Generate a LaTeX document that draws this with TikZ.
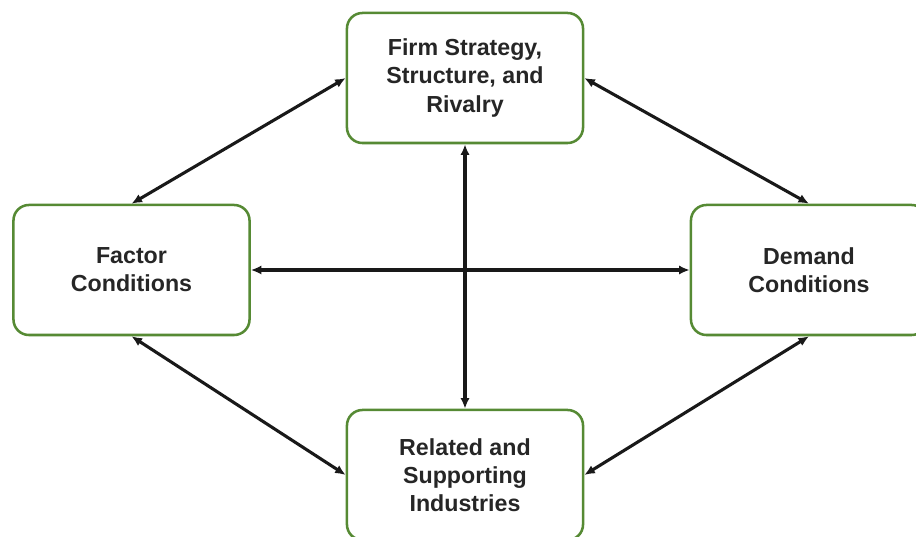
\documentclass[tikz,border=0pt]{standalone}
\usepackage{fontspec}
\setmainfont{Liberation Sans}
\usetikzlibrary{arrows.meta}
\definecolor{boxGreen}{RGB}{86,138,52}
\definecolor{textGray}{RGB}{38,38,38}

\begin{document}
\begin{tikzpicture}
[x=0.025cm,y=0.025cm,
  lineDecorate/.style={{Latex[length=7.5pt,width=6.5pt]}-{Latex[length=7.5pt,width=6.5pt]},line width=2.2pt,black!90},%
  nodeDecorate/.style={shape=rectangle,rounded corners=11pt,draw=boxGreen,line width=1.8pt,fill=white,
    minimum width=5.9cm,minimum height=3.25cm,align=center,text=textGray,
    font=\bfseries\fontsize{16.5}{20}\selectfont}]
\useasboundingbox (0,0) rectangle (916,-537);
%% nodes or boxes
\foreach \nodename/\x/\y/\txt in {
  firm/465/-78/{Firm Strategy,\\ Structure, and\\ Rivalry},
  factor/131.5/-270/{Factor\\ Conditions},
  demand/809/-270/{Demand\\ Conditions},
  related/465/-475/{Related and\\ Supporting\\ Industries}}
{
  \node (\nodename) at (\x,\y) [nodeDecorate] {\txt};
}
%% edges or arrows
\path
\foreach \startnode/\endnode in {
  factor.north/firm.west, firm.east/demand.north,
  factor.east/demand.west, firm.south/related.north,
  factor.south/related.west, related.east/demand.south}
{
  (\startnode) edge[lineDecorate] (\endnode)
};
\end{tikzpicture}
\end{document}
